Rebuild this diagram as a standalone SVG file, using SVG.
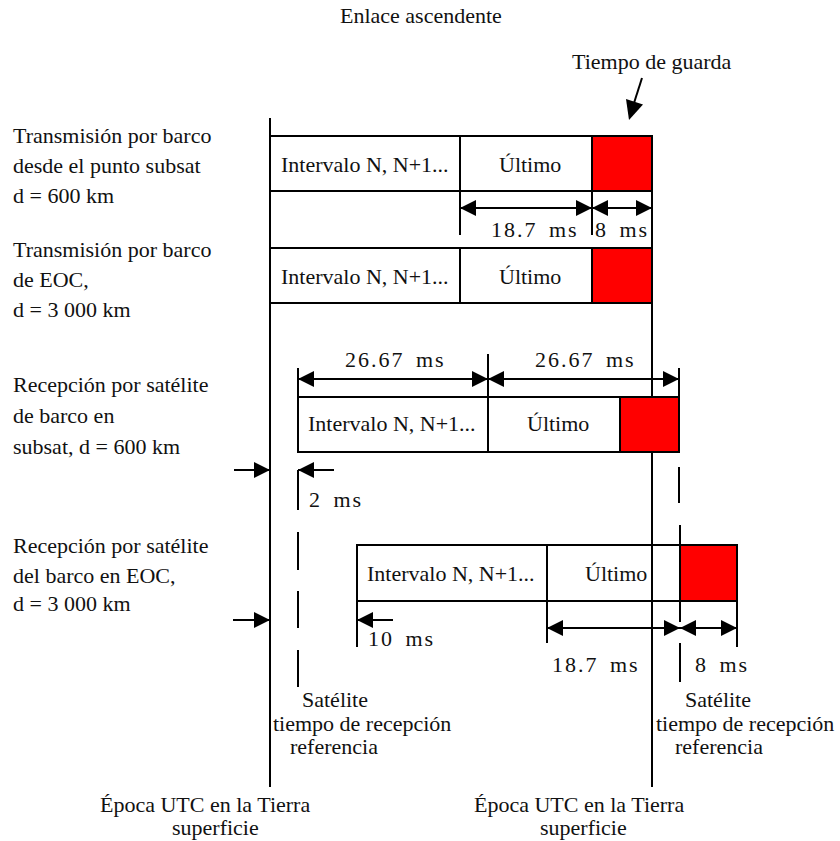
<svg xmlns="http://www.w3.org/2000/svg" width="840" height="841" viewBox="0 0 840 841">
  <style>
    text { font-family: "Liberation Serif", "Times New Roman", serif; font-size: 22px; fill: #111; }
    .dim { letter-spacing: 2px; word-spacing: 4px; }
    .ln { stroke: #000; stroke-width: 2; fill: none; }
    .box { stroke: #000; stroke-width: 2; fill: #fff; }
    .guard { stroke: #000; stroke-width: 2; fill: #ff0000; }
    .arr { stroke: #000; stroke-width: 2; fill: none; marker-end: url(#ah); }
    .arr2 { stroke: #000; stroke-width: 2; fill: none; marker-start: url(#ah); marker-end: url(#ah); }
  </style>
  <defs>
    <marker id="ah" viewBox="0 0 16 16" refX="16" refY="8" markerWidth="16" markerHeight="16" markerUnits="userSpaceOnUse" orient="auto-start-reverse">
      <path d="M0,0 L16,8 L0,16 z" fill="#000"/>
    </marker>
  </defs>

  <rect width="840" height="841" fill="#fff"/>

  <!-- headings -->
  <text x="340" y="23">Enlace ascendente</text>
  <text x="572" y="69">Tiempo de guarda</text>

  <!-- row labels -->
  <g id="labels">
    <text x="13" y="143">Transmisión por barco</text>
    <text x="13" y="173">desde el punto subsat</text>
    <text x="13" y="203">d = 600 km</text>
    <text x="13" y="257">Transmisión por barco</text>
    <text x="13" y="287">de EOC,</text>
    <text x="13" y="317">d = 3 000 km</text>
    <text x="13" y="392">Recepción por satélite</text>
    <text x="13" y="423">de barco en</text>
    <text x="13" y="454">subsat, d = 600 km</text>
    <text x="13" y="553">Recepción por satélite</text>
    <text x="13" y="583">del barco en EOC,</text>
    <text x="13" y="611">d = 3 000 km</text>
  </g>

  <!-- ship transmission, subsatellite point -->
  <g id="tx-subsat">
    <rect class="box" x="270" y="136" width="382" height="55"/>
    <line class="ln" x1="460" y1="136" x2="460" y2="191"/>
    <rect class="guard" x="592" y="136" width="60" height="55"/>
    <text x="281" y="172">Intervalo N, N+1...</text>
    <text x="499" y="172">Último</text>
  </g>

  <!-- gap row between the two transmissions -->
  <g id="tx-gap">
    <rect class="box" x="270" y="191" width="382" height="57"/>
  </g>

  <!-- ship transmission, edge of coverage -->
  <g id="tx-eoc">
    <rect class="box" x="270" y="248" width="382" height="55"/>
    <line class="ln" x1="460" y1="248" x2="460" y2="303"/>
    <rect class="guard" x="592" y="248" width="60" height="55"/>
    <text x="281" y="284">Intervalo N, N+1...</text>
    <text x="499" y="284">Último</text>
  </g>

  <!-- satellite reception, subsatellite ship -->
  <g id="rx-subsat">
    <rect class="box" x="298" y="397" width="381" height="55"/>
    <line class="ln" x1="488" y1="397" x2="488" y2="452"/>
    <rect class="guard" x="620" y="397" width="59" height="55"/>
    <text x="308" y="431">Intervalo N, N+1...</text>
    <text x="527" y="431">Último</text>
  </g>

  <!-- satellite reception, edge-of-coverage ship -->
  <g id="rx-eoc">
    <rect class="box" x="357" y="545" width="380" height="56"/>
    <line class="ln" x1="547" y1="545" x2="547" y2="601"/>
    <rect class="guard" x="680" y="545" width="57" height="56"/>
    <text x="367" y="581">Intervalo N, N+1...</text>
    <text x="585" y="581">Último</text>
  </g>

  <g id="connectors">
    <!-- UTC epoch reference lines -->
    <line class="ln" x1="270" y1="118" x2="270" y2="787"/>
    <line class="ln" x1="652" y1="303" x2="652" y2="397"/>
    <line class="ln" x1="652" y1="452" x2="652" y2="787"/>

    <!-- guard time pointer -->
    <line class="ln" x1="642" y1="78" x2="634" y2="103"/>
    <path d="M629,120 L643,104.5 L626,99 z" fill="#000"/>

    <!-- 18.7 ms / 8 ms on the transmission rows -->
    <line class="ln" x1="460" y1="191" x2="460" y2="235"/>
    <line class="ln" x1="592" y1="191" x2="592" y2="235"/>
    <line class="arr2" x1="460" y1="208" x2="592" y2="208"/>
    <line class="arr2" x1="592" y1="208" x2="652" y2="208"/>

    <!-- 26.67 ms spans -->
    <line class="ln" x1="298" y1="368" x2="298" y2="397"/>
    <line class="ln" x1="488" y1="354" x2="488" y2="397"/>
    <line class="ln" x1="679" y1="368" x2="679" y2="397"/>
    <line class="arr2" x1="298" y1="379" x2="488" y2="379"/>
    <line class="arr2" x1="488" y1="379" x2="679" y2="379"/>

    <!-- 2 ms offset -->
    <line class="arr" x1="234" y1="470" x2="270" y2="470"/>
    <line class="arr" x1="334" y1="470" x2="298" y2="470"/>
    <line class="ln" x1="298" y1="470" x2="298" y2="510"/>

    <!-- satellite reception reference, left (dashed) -->
    <line class="ln" x1="298" y1="532" x2="298" y2="570"/>
    <line class="ln" x1="298" y1="591" x2="298" y2="628"/>
    <line class="ln" x1="298" y1="650" x2="298" y2="687"/>

    <!-- satellite reception reference, right (dashed) -->
    <line class="ln" x1="679" y1="467" x2="679" y2="503"/>
    <line class="ln" x1="680" y1="525" x2="680" y2="622"/>
    <line class="ln" x1="680" y1="643" x2="680" y2="682"/>

    <!-- 10 ms offset -->
    <line class="arr" x1="233" y1="620" x2="270" y2="620"/>
    <line class="arr" x1="393" y1="620" x2="357" y2="620"/>
    <line class="ln" x1="357" y1="601" x2="357" y2="647"/>

    <!-- 18.7 ms / 8 ms on the reception row -->
    <line class="ln" x1="547" y1="601" x2="547" y2="643"/>
    <line class="ln" x1="737" y1="601" x2="737" y2="647"/>
    <line class="arr2" x1="547" y1="628" x2="680" y2="628"/>
    <line class="arr2" x1="680" y1="628" x2="737" y2="628"/>
  </g>

  <!-- dimension values -->
  <g id="dims">
    <text class="dim" x="491" y="237">18.7 ms</text>
    <text class="dim" x="595" y="237">8 ms</text>
    <text class="dim" x="345" y="367">26.67 ms</text>
    <text class="dim" x="535" y="367">26.67 ms</text>
    <text class="dim" x="309" y="507">2 ms</text>
    <text class="dim" x="368" y="646">10 ms</text>
    <text class="dim" x="552" y="672">18.7 ms</text>
    <text class="dim" x="695" y="672">8 ms</text>
  </g>

  <!-- reference captions -->
  <g id="captions">
    <text x="302" y="707">Satélite</text>
    <text x="273" y="731">tiempo de recepción</text>
    <text x="290" y="754">referencia</text>
    <text x="685" y="707">Satélite</text>
    <text x="656" y="731">tiempo de recepción</text>
    <text x="675" y="754">referencia</text>
    <text x="100" y="812">Época UTC en la Tierra</text>
    <text x="172" y="835">superficie</text>
    <text x="474" y="812">Época UTC en la Tierra</text>
    <text x="540" y="835">superficie</text>
  </g>
</svg>
